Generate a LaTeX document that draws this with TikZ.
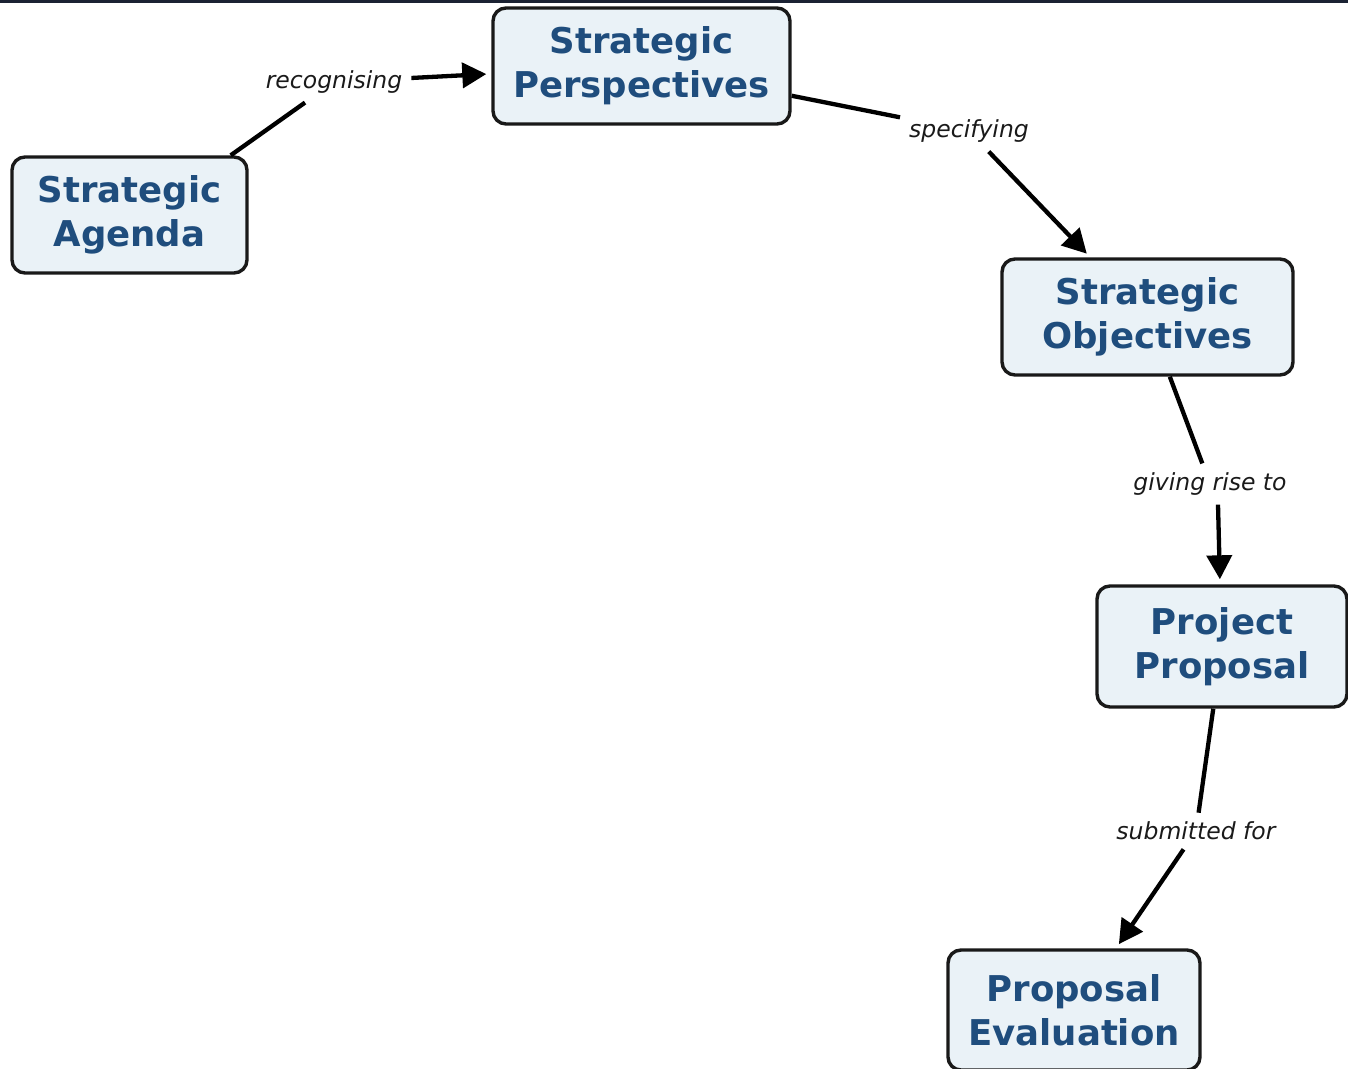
\documentclass[tikz,border=0pt]{standalone}
\usepackage{fontspec}
\setmainfont{DejaVu Sans}
\usetikzlibrary{arrows.meta,calc}
\definecolor{boxfill}{HTML}{EAF2F7}
\definecolor{boxtext}{HTML}{1F4D7D}
\definecolor{linkgray}{HTML}{1A1A1A}
\definecolor{topbar}{HTML}{1B2233}
\tikzset{
  concept/.style={draw=black!90, line width=3.4pt, rounded corners=13pt, fill=boxfill,
    text=boxtext, align=center, inner sep=0pt,
    font=\bfseries\fontsize{35.5}{44}\selectfont},
  linkword/.style={text=linkgray, inner xsep=9pt, inner ysep=9pt,
    font=\itshape\fontsize{23.5}{28}\selectfont},
  link/.style={line width=4.3pt, black},
  linkarrow/.style={link, -{Triangle[length=24pt, width=25pt]}, shorten >=5pt}
}
\begin{document}
\begin{tikzpicture}[x=1pt, y=-1pt]
  \useasboundingbox (0,0) rectangle (1348,1068);
  \clip (0,0) rectangle (1348,1068);
  % thin dark rule along the upper edge
  \fill[topbar] (0,0) rectangle (1348,2.5);

  % concepts
  \node[concept, minimum width=235pt, minimum height=116pt] (agenda) at (129.5,215) {Strategic\\Agenda};
  \node[concept, minimum width=297pt, minimum height=116pt] (persp) at (641.5,66) {Strategic\\Perspectives};
  \node[concept, minimum width=291pt, minimum height=116pt] (object) at (1147.5,317) {Strategic\\Objectives};
  \node[concept, minimum width=250pt, minimum height=121pt] (project) at (1222,646.5) {Project\\Proposal};
  \node[concept, minimum width=252pt, minimum height=120pt] (evaluation) at (1074,1010) {Proposal\\Evaluation};

  % linking phrases
  \node[linkword] (recog) at (334,82) {recognising};
  \node[linkword] (spec) at (969,131) {specifying};
  \node[linkword] (giving) at (1210,484) {giving rise to};
  \node[linkword] (submit) at (1196,831) {submitted for};

  % connectors
  \coordinate (agendaexit) at ($(agenda.north east)+(-18,0)$);
  \draw[link] (agendaexit) -- (recog);
  \draw[linkarrow] (recog) -- (persp);
  \draw[link] (persp) -- (spec);
  \draw[linkarrow] (spec) -- (object);
  \draw[link] (object) -- (giving);
  \coordinate (givingexit) at ($(giving.south)+(8,0)$);
  \draw[linkarrow] (givingexit) -- (project.north -| {$(giving.south)+(10,0)$});
  \draw[link] (project) -- (submit);
  \draw[linkarrow] (submit) -- (evaluation);
\end{tikzpicture}
\end{document}
